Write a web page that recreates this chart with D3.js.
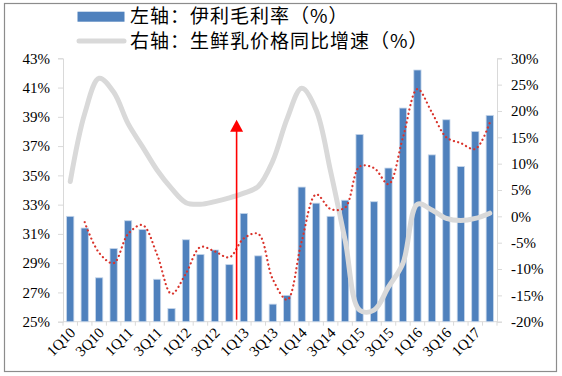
<!DOCTYPE html>
<html lang="zh">
<head>
    <meta charset="UTF-8">
    <title>伊利毛利率与生鲜乳价格</title>
    <script src="https://d3js.org/d3.v7.min.js"></script>
    <style>
        body {
            margin: 0;
            background: #fff;
        }
        svg {
            display: block;
        }
        .tick-label {
            font-family: "Liberation Serif", "Times New Roman", serif;
            font-size: 15px;
            fill: #000;
        }
        .legend-text {
            font-family: "Noto Sans CJK SC", sans-serif;
            font-size: 19px;
            fill: #000;
        }
    </style>
</head>
<body>
    <svg id="chart" width="562" height="376"></svg>

    <script>
        // Quarters 1Q10 .. 2Q17
        const quarters = ["1Q10","2Q10","3Q10","4Q10","1Q11","2Q11","3Q11","4Q11",
                          "1Q12","2Q12","3Q12","4Q12","1Q13","2Q13","3Q13","4Q13",
                          "1Q14","2Q14","3Q14","4Q14","1Q15","2Q15","3Q15","4Q15",
                          "1Q16","2Q16","3Q16","4Q16","1Q17","2Q17"];

        // Left axis: Yili gross margin (%)
        const grossMargin = [32.2, 31.4, 28.0, 30.0, 31.9, 31.3, 27.9, 25.9,
                             30.6, 29.6, 29.9, 28.9, 32.4, 29.5, 26.2, 26.8,
                             34.2, 33.1, 32.2, 33.3, 37.8, 33.2, 35.5, 39.6,
                             42.2, 36.4, 38.8, 35.6, 38.0, 39.1];

        // Red dotted trend of the gross margin (starts at the 2nd quarter)
        const marginTrend = [null, 31.8, 29.7, 29.0, 31.0, 31.6, 29.6, 26.9,
                             28.3, 30.1, 29.8, 29.4, 30.7, 31.0, 27.9, 26.5,
                             30.5, 33.7, 32.7, 32.8, 35.6, 35.5, 34.4, 37.6,
                             40.9, 39.3, 37.6, 37.2, 36.8, 38.6];

        // Right axis: raw milk price growth yoy (%)
        const milkPriceYoy = [6.6, 19.5, 26.2, 23.6, 17.6, 13.2, 8.8, 5.3,
                              2.6, 2.3, 2.8, 3.5, 4.4, 5.7, 10.5, 18.6,
                              24.3, 20.2, 8.5, -4.5, -17.8, -17.8, -13.4, -8.9,
                              2.3, 1.2, -0.4, -0.8, -0.4, 0.6];

        const leftTicks = [25, 27, 29, 31, 33, 35, 37, 39, 41, 43];
        const rightTicks = [-20, -15, -10, -5, 0, 5, 10, 15, 20, 25, 30];
        const xLabels = ["1Q10","3Q10","1Q11","3Q11","1Q12","3Q12","1Q13","3Q13",
                         "1Q14","3Q14","1Q15","3Q15","1Q16","3Q16","1Q17"];

        // arrow marks the start of 1Q13
        const arrowQuarter = "1Q13";
        const arrowTop = 38.8;

        const legendItems = ["左轴：伊利毛利率（%）", "右轴：生鲜乳价格同比增速（%）"];

        const plot = { left: 63, right: 497, top: 58.3, bottom: 321.7 };
        const axisColor = "#d9d9d9";

        const svg = d3.select("#chart");

        const x = d3.scaleBand()
                    .domain(quarters)
                    .range([plot.left, plot.right])
                    .paddingInner(0.5)
                    .paddingOuter(0.25);

        // band boundaries need a no-padding scale
        const xb = d3.scaleBand()
                     .domain(quarters)
                     .range([plot.left, plot.right]);

        const yL = d3.scaleLinear().domain([25, 43]).range([plot.bottom, plot.top]);
        const yR = d3.scaleLinear().domain([-20, 30]).range([plot.bottom, plot.top]);

        const cx = q => xb(q) + xb.bandwidth() / 2;

        // outer frame
        svg.append("rect")
           .attr("x", 4.5).attr("y", 3.5)
           .attr("width", 552).attr("height", 368)
           .attr("fill", "none")
           .attr("stroke", "#8c8c8c")
           .attr("stroke-width", 1.2);

        // left axis
        const gL = svg.append("g")
                      .attr("transform", `translate(${plot.left},0)`)
                      .call(d3.axisLeft(yL).tickValues(leftTicks).tickSize(5).tickPadding(8)
                              .tickFormat(d => d + "%"));
        // right axis
        const gR = svg.append("g")
                      .attr("transform", `translate(${plot.right},0)`)
                      .call(d3.axisRight(yR).tickValues(rightTicks).tickSize(5).tickPadding(9)
                              .tickFormat(d => d + "%"));

        [gL, gR].forEach(g => {
            g.select(".domain").attr("stroke", axisColor);
            g.selectAll(".tick line").attr("stroke", axisColor);
            g.selectAll("text").attr("class", "tick-label").attr("fill", "#000");
        });

        // bottom axis line and tick marks at band edges
        svg.append("line")
           .attr("x1", plot.left).attr("x2", plot.right)
           .attr("y1", plot.bottom).attr("y2", plot.bottom)
           .attr("stroke", axisColor);

        svg.selectAll(".xtick")
           .data(quarters.concat(["end"]))
           .enter()
           .append("line")
           .attr("x1", (d, i) => plot.left + i * xb.bandwidth())
           .attr("x2", (d, i) => plot.left + i * xb.bandwidth())
           .attr("y1", plot.bottom)
           .attr("y2", plot.bottom + 4)
           .attr("stroke", axisColor);

        // bars
        svg.selectAll(".bar")
           .data(quarters.map((q, i) => ({ q: q, v: grossMargin[i] })))
           .enter()
           .append("rect")
           .attr("class", "bar")
           .attr("x", d => x(d.q))
           .attr("y", d => yL(d.v))
           .attr("width", x.bandwidth())
           .attr("height", d => yL(25) - yL(d.v))
           .attr("fill", "#4f81bd")
           .attr("stroke", "#c6d6ea")
           .attr("stroke-width", 0.8);

        // gray line (right axis)
        const grayLine = d3.line()
                           .x(d => cx(d.q))
                           .y(d => yR(d.v))
                           .curve(d3.curveCatmullRom.alpha(0.5));

        svg.append("path")
           .datum(quarters.map((q, i) => ({ q: q, v: milkPriceYoy[i] })))
           .attr("d", grayLine)
           .attr("fill", "none")
           .attr("stroke", "#d9d9d9")
           .attr("stroke-width", 5)
           .attr("stroke-linejoin", "round")
           .attr("stroke-linecap", "round");

        // red dotted trend (left axis)
        const redLine = d3.line()
                          .defined(d => d.v != null)
                          .x(d => cx(d.q))
                          .y(d => yL(d.v))
                          .curve(d3.curveCatmullRom.alpha(0.5));

        svg.append("path")
           .datum(quarters.map((q, i) => ({ q: q, v: marginTrend[i] })))
           .attr("d", redLine)
           .attr("fill", "none")
           .attr("stroke", "#d9332b")
           .attr("stroke-width", 2.2)
           .attr("stroke-dasharray", "0.1,4.3")
           .attr("stroke-linecap", "round");

        // red arrow
        const ax = xb(arrowQuarter);
        const tipY = yL(arrowTop);
        svg.append("line")
           .attr("x1", ax).attr("x2", ax)
           .attr("y1", yL(25) - 2).attr("y2", tipY + 10)
           .attr("stroke", "#ff0000")
           .attr("stroke-width", 1.6);
        svg.append("path")
           .attr("d", `M${ax},${tipY} L${ax - 6.5},${tipY + 12} L${ax + 6.5},${tipY + 12} Z`)
           .attr("fill", "#ff0000");

        // x labels, rotated
        svg.selectAll(".xlabel")
           .data(xLabels)
           .enter()
           .append("text")
           .attr("class", "tick-label")
           .attr("text-anchor", "end")
           .attr("transform", d => `translate(${cx(d) + 6},${plot.bottom + 12}) rotate(-45)`)
           .text(d => d);

        // legend
        const legend = svg.append("g");
        legend.append("rect")
              .attr("x", 77.5).attr("y", 11.7)
              .attr("width", 47).attr("height", 10)
              .attr("fill", "#4f81bd");
        legend.append("line")
              .attr("x1", 79).attr("x2", 124)
              .attr("y1", 41).attr("y2", 41)
              .attr("stroke", "#d9d9d9")
              .attr("stroke-width", 5)
              .attr("stroke-linecap", "round");
        legend.selectAll(".legend-text")
              .data(legendItems)
              .enter()
              .append("text")
              .attr("class", "legend-text")
              .attr("x", 130)
              .attr("y", (d, i) => 16.7 + i * 25)
              .attr("dy", "0.35em")
              .style("letter-spacing", "1px")
              .text(d => d);
    </script>
</body>
</html>
